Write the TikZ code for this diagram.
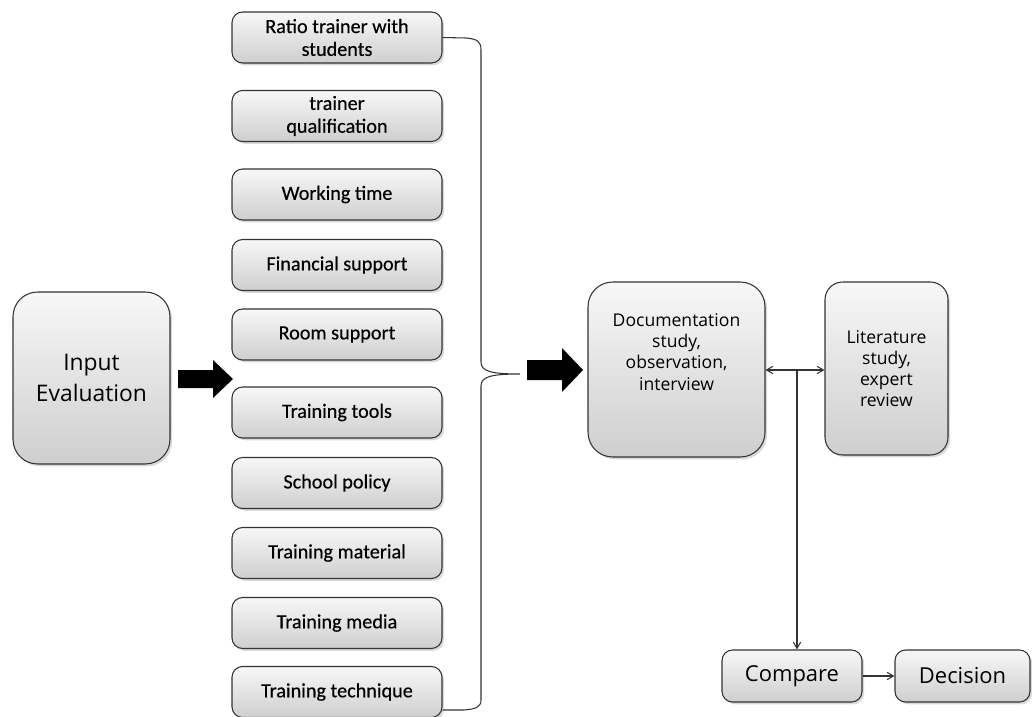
\documentclass[tikz,border=0pt]{standalone}
\usepackage{fontspec}
\setmainfont{Carlito}[FakeBold=0.4]
\newfontfamily\segoe{Open Sans}
\usepackage{tikz}
\usetikzlibrary{shapes,backgrounds,shadows}
\usetikzlibrary{arrows}

\begin{document}
\begin{tikzpicture}[x=0.02cm,y=-0.02cm,>=angle 60,semithick,
  box/.style={draw=black!80,line width=0.6pt,top color=gray!6,bottom color=gray!38,
              drop shadow={shadow xshift=1.2pt,shadow yshift=-1.3pt,opacity=.3},
              align=center,inner sep=2pt},
  factor/.style={box,rounded corners=6pt,minimum width=4.2cm,minimum height=1.02cm,
                 font=\fontsize{11.5}{13}\selectfont},
  bigbox/.style={box,rounded corners=14pt},
  endbox/.style={box,rounded corners=6pt,minimum height=1.04cm,
                 font=\segoe\fontsize{12.5}{15}\selectfont},
  link/.style={line width=0.6pt,draw=black!80}]

  \useasboundingbox (0,0) rectangle (1032,717);

  \node[bigbox,minimum width=3.14cm,minimum height=3.44cm,
        font=\segoe\fontsize{13}{17.6}\selectfont] (input) at (91.5,378) {Input\\Evaluation};

  \node[factor] (ratio)     at (337,37.5) {Ratio trainer with\\students};
  \node[factor] (qual)      at (337,116)  {trainer\\qualification};
  \node[factor] (time)      at (337,194.5) {Working time};
  \node[factor] (fin)       at (337,265)  {Financial support};
  \node[factor] (room)      at (337,334.5) {Room support};
  \node[factor] (tools)     at (337,412.5) {Training tools};
  \node[factor] (policy)    at (337,483)  {School policy};
  \node[factor] (material)  at (337,553)  {Training material};
  \node[factor] (media)     at (337,623)  {Training media};
  \node[factor] (technique) at (337,692)  {Training technique};

  \node[bigbox,minimum width=3.54cm,minimum height=3.5cm,
        font=\segoe\fontsize{10}{12}\selectfont] (doc) at (676.5,369.5)
        {Documentation\\study,\\observation,\\interview\rule[-20pt]{0pt}{0pt}};
  \node[bigbox,rounded corners=10pt,minimum width=2.46cm,minimum height=3.46cm,
        font=\segoe\fontsize{10}{12}\selectfont] (lit) at (886.5,368.5)
        {Literature\\study,\\expert\\review};

  \node[endbox,minimum width=2.8cm] (cmp) at (792,676) {Compare};
  \node[endbox,minimum width=2.7cm] (dec) at (962.5,676) {Decision};

  % block arrows
  \fill (178,370) -- (213,370) -- (213,360) -- (233,379) -- (213,398)
        -- (213,388) -- (178,388) -- cycle;
  \fill (527,360) -- (562,360) -- (562,348) -- (583,370) -- (562,392)
        -- (562,380) -- (527,380) -- cycle;

  % brace
  \coordinate (tip) at (520,374);
  \draw[link] (ratio.east) -- (466,38) .. controls (478,39) and (481,42) .. (481,50)
        -- (481,362) .. controls (481,371) and (490,374) .. (tip)
        .. controls (490,374) and (481,377) .. (481,386)
        -- (481,700) .. controls (481,707) and (476,709) .. (464,710)
        -- (technique.east |- 0,710);

  \coordinate (split) at (797,370);
  \draw[link,<->] (doc.east |- split) -- (lit.west |- split);
  \draw[link,->] (split) -- (split |- cmp.north);
  \draw[link,->] (cmp) -- (dec);
\end{tikzpicture}
\end{document}
